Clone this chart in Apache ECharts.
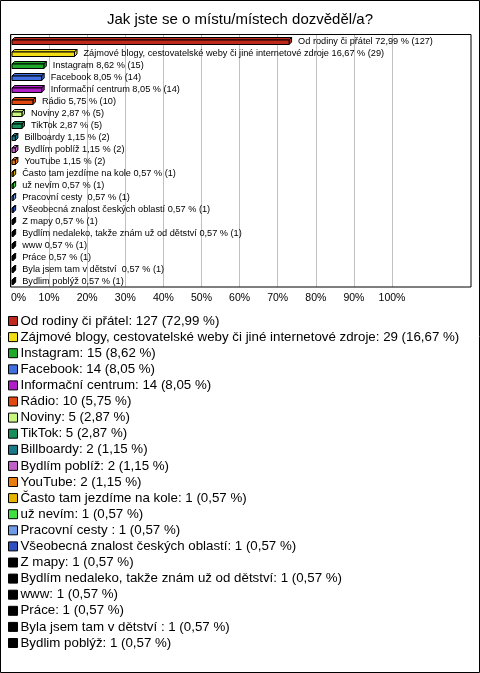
<!DOCTYPE html>
<html>
<head>
<meta charset="utf-8">
<script src="https://cdn.jsdelivr.net/npm/echarts@6/dist/echarts.min.js"></script>
<style>
html,body{margin:0;padding:0;background:#fff;}
#chart{width:480px;height:673px;}
</style>
</head>
<body>
<div id="chart"></div>
<script>
const titleText = 'Jak jste se o místu/místech dozvěděl/a?';
const categories = [
  'Od rodiny či přátel',
  'Zájmové blogy, cestovatelské weby či jiné internetové zdroje',
  'Instagram',
  'Facebook',
  'Informační centrum',
  'Rádio',
  'Noviny',
  'TikTok',
  'Billboardy',
  'Bydlím poblíž',
  'YouTube',
  'Často tam jezdíme na kole',
  'už nevím',
  'Pracovní cesty ',
  'Všeobecná znalost českých oblastí',
  'Z mapy',
  'Bydlím nedaleko, takže znám už od dětství',
  'www',
  'Práce',
  'Byla jsem tam v dětství ',
  'Bydlim poblýž'
];
const counts = [127, 29, 15, 14, 14, 10, 5, 5, 2, 2, 2, 1, 1, 1, 1, 1, 1, 1, 1, 1, 1];
const percents = [72.99, 16.67, 8.62, 8.05, 8.05, 5.75, 2.87, 2.87, 1.15, 1.15, 1.15, 0.57, 0.57, 0.57, 0.57, 0.57, 0.57, 0.57, 0.57, 0.57, 0.57];
const colors = ['#c0281c', '#f2dc14', '#1fa82a', '#4070e0', '#b01cc8', '#e0480f', '#c8f57c', '#18905a',
  '#1a7a8a', '#c060c8', '#e87c10', '#e6b400', '#40e040', '#6f9ae6', '#3050c0',
  '#000000', '#000000', '#000000', '#000000', '#000000', '#000000'];
const tickLabels = ['0%', '10%', '20%', '30%', '40%', '50%', '60%', '70%', '80%', '90%', '100%'];

const fmt = v => v.toFixed(2).replace('.', ',');
const FONT = '"Liberation Sans", Arial, sans-serif';

const chart = echarts.init(document.getElementById('chart'), null, {renderer: 'canvas'});

function renderItem(params, api) {
  const val = api.value(0);
  const cat = api.value(1);
  const p0 = api.coord([0, cat]);
  const p1 = api.coord([val, cat]);
  const cy = p0[1];
  const x0 = p0[0] + 1;
  const x1 = Math.max(p1[0], x0 + 1);
  const d = 2.5;
  const yt = cy - 1;
  const yb = cy + 3.5;
  const color = api.visual('color');
  const st = {fill: color, stroke: '#000', lineWidth: 1};
  const idx = params.seriesIndex;
  return {
    type: 'group',
    children: [
      {type: 'polygon', shape: {points: [[x0, yt], [x0 + d, yt - d], [x1 + d, yt - d], [x1, yt]]}, style: st},
      {type: 'polygon', shape: {points: [[x1, yt], [x1 + d, yt - d], [x1 + d, yb - d], [x1, yb]]}, style: st},
      {type: 'rect', shape: {x: x0, y: yt, width: x1 - x0, height: yb - yt}, style: st},
      {type: 'text', x: p1[0] + 9, y: cy,
        style: {text: categories[idx] + ' ' + fmt(percents[idx]) + ' % (' + counts[idx] + ')',
          fill: '#000', font: '9.2px ' + FONT, verticalAlign: 'middle', align: 'left'}}
    ]
  };
}

const series = categories.map((name, i) => ({
  name: name,
  type: 'custom',
  renderItem: renderItem,
  itemStyle: {color: colors[i]},
  clip: false,
  encode: {x: 0, y: 1},
  data: [[percents[i], i]]
}));

const option = {
  animation: false,
  backgroundColor: '#fff',
  title: {
    text: titleText, left: 'center', top: 7,
    textStyle: {fontFamily: FONT, fontSize: 15, fontWeight: 'normal', color: '#000'}
  },
  grid: {left: 11, width: 381, top: 35, bottom: 386, containLabel: false},
  xAxis: {type: 'value', min: 0, max: 100, interval: 10,
    axisLine: {show: false}, axisTick: {show: false},
    splitLine: {show: true, lineStyle: {color: '#c0c0c0', width: 1}},
    axisLabel: {show: true, margin: 6, color: '#000', fontFamily: FONT, fontSize: 10.5,
      alignMinLabel: 'left',
      formatter: v => tickLabels[Math.round(v / 10)]}},
  yAxis: {type: 'category', data: categories, inverse: true,
    axisLine: {show: false}, axisTick: {show: false}, axisLabel: {show: false}, splitLine: {show: false}},
  legend: {
    orient: 'vertical', left: 8, top: 314, padding: 0,
    icon: 'rect', itemWidth: 9, itemHeight: 9, itemGap: 2.1,
    itemStyle: {borderColor: '#000', borderWidth: 1},
    selectedMode: false,
    textStyle: {fontFamily: FONT, fontSize: 13.3, lineHeight: 14, color: '#000', padding: [0, 0, 0, -2]},
    formatter: name => {
      const i = categories.indexOf(name);
      return name + ': ' + counts[i] + ' (' + fmt(percents[i]) + ' %)';
    },
    data: categories
  },
  graphic: [
    {type: 'rect', z: 100, shape: {x: 0.5, y: 0.5, width: 479, height: 672}, style: {fill: 'none', stroke: '#000', lineWidth: 1}},
    {type: 'rect', z: 100, shape: {x: 10.5, y: 34.5, width: 460.5, height: 252.5}, style: {fill: 'none', stroke: '#000', lineWidth: 1}}
  ],
  series: series
};
chart.setOption(option);
</script>
</body>
</html>
